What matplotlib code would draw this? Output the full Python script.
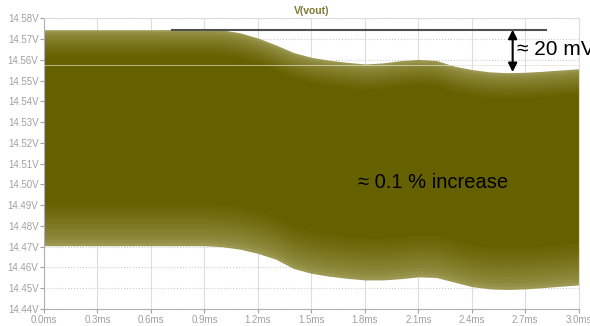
import numpy as np
import matplotlib.pyplot as plt
from matplotlib.colors import to_rgb
from matplotlib.ticker import FuncFormatter

plt.rcParams['font.family'] = ['Liberation Sans', 'DejaVu Sans']

# envelope of V(vout) (time in ms, volts)
t_ms = [0.0, 0.3, 0.6, 0.9, 1.0, 1.1, 1.2, 1.3, 1.4, 1.5, 1.6, 1.7, 1.8,
        1.9, 2.0, 2.1, 2.2, 2.3, 2.4, 2.5, 2.6, 2.7, 2.8, 2.9, 3.0]
v_max = [14.5745, 14.5745, 14.5745, 14.5746, 14.5744, 14.5730, 14.5705,
         14.5672, 14.5635, 14.5612, 14.5598, 14.5588, 14.5580, 14.5585,
         14.5596, 14.5602, 14.5597, 14.5570, 14.5553, 14.5542, 14.5538,
         14.5540, 14.5545, 14.5551, 14.5557]
v_min = [14.4705, 14.4705, 14.4705, 14.4705, 14.4700, 14.4688, 14.4668,
         14.4640, 14.4595, 14.4572, 14.4558, 14.4548, 14.4540, 14.4540,
         14.4546, 14.4555, 14.4552, 14.4530, 14.4508, 14.4497, 14.4494,
         14.4497, 14.4503, 14.4510, 14.4516]

x_ticks = [0.0, 0.3, 0.6, 0.9, 1.2, 1.5, 1.8, 2.1, 2.4, 2.7, 3.0]
y_ticks = [14.44, 14.45, 14.46, 14.47, 14.48, 14.49, 14.50, 14.51,
           14.52, 14.53, 14.54, 14.55, 14.56, 14.57, 14.58]

t = np.array(t_ms)
hi = np.array(v_max)
lo = np.array(v_min)

fig = plt.figure(figsize=(5.9, 3.26), dpi=100)
ax = fig.add_axes([0.0746, 0.0521, 0.9064, 0.8918])

# ripple band drawn as nested fills: lighter (aliased) near the edges,
# solid olive in the middle
edge = np.array(to_rgb('#9c9852'))
core = np.array(to_rgb('#666100'))
n = 14
for i in range(n):
    f = i / (n - 1)
    c = edge + (core - edge) * f ** 0.7
    ax.fill_between(t, lo + 0.020 * f, hi - 0.012 * f, color=c, lw=0,
                    zorder=2 + i * 0.01)
ax.axhline(14.5577, color='#e2e1cc', lw=0.6, alpha=0.8, zorder=3)

# annotations
ax.plot([0.72, 2.815], [14.5745, 14.5745], color='#505050', lw=1.5, zorder=6)
ax.annotate('', xy=(2.629, 14.5541), xytext=(2.629, 14.5745),
            arrowprops=dict(arrowstyle='<|-|>', color='black', lw=1.5,
                            mutation_scale=13, shrinkA=0, shrinkB=0),
            zorder=7)
ax.text(2.652, 14.5652, '≈ 20 mV', fontsize=15, va='center', ha='left',
        clip_on=False, zorder=7)
ax.text(1.764, 14.5009, '≈ 0.1 % increase', fontsize=14.5, va='center',
        ha='left', zorder=7)

ax.set_xlim(0, 3.0)
ax.set_ylim(14.44, 14.58)
ax.set_xticks(x_ticks)
ax.set_yticks(y_ticks)
ax.xaxis.set_major_formatter(FuncFormatter(lambda v, p: f'{v:.1f}ms'))
ax.yaxis.set_major_formatter(FuncFormatter(lambda v, p: f'{v:.2f}V'))
ax.tick_params(labelsize=7, colors='#a0a0a0', length=3, width=0.8, pad=1)
ax.grid(axis='x', color='#dddddd', lw=0.8, zorder=0)
ax.grid(axis='y', color='#cccccc', lw=0.8, ls=':', zorder=0)
ax.set_axisbelow(True)
for side in ['top', 'right']:
    ax.spines[side].set_color('#dddddd')
for side in ['left', 'bottom']:
    ax.spines[side].set_color('#b0b0b0')

ax.set_title('V(vout)', fontsize=7.5, color='#7b7a35', fontweight='bold', pad=3)

fig.savefig('out.png')
